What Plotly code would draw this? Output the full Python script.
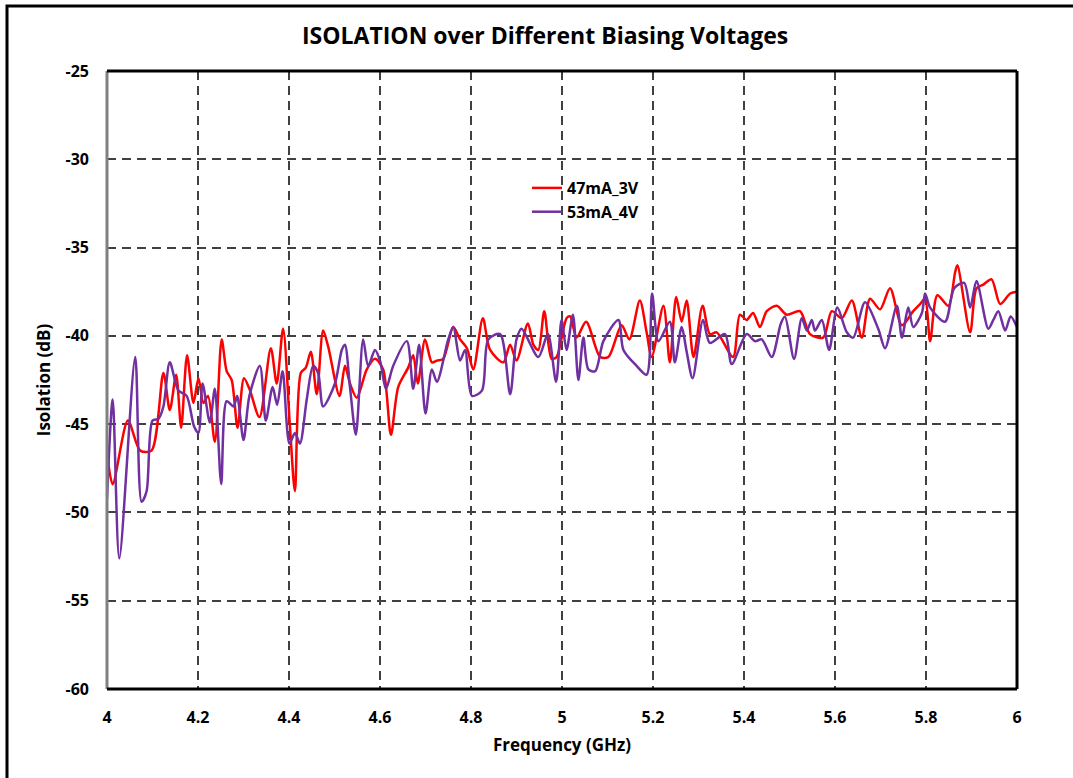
import plotly.graph_objects as go

# Isolation sweep, 47 mA / 3 V bias
freq_47mA = [4.000, 4.0125, 4.046, 4.073, 4.098, 4.124, 4.138, 4.152, 4.163, 4.176,
             4.190, 4.201, 4.212, 4.222, 4.237, 4.252, 4.263, 4.274, 4.287, 4.301,
             4.313, 4.335, 4.360, 4.373, 4.387, 4.402, 4.413, 4.426, 4.437, 4.448,
             4.461, 4.475, 4.486, 4.511, 4.523, 4.534, 4.549, 4.571, 4.589, 4.607,
             4.624, 4.640, 4.662, 4.673, 4.683, 4.699, 4.714, 4.725, 4.739, 4.761,
             4.776, 4.791, 4.805, 4.826, 4.842, 4.871, 4.886, 4.900, 4.925, 4.937,
             4.948, 4.961, 4.977, 4.988, 5.010, 5.018, 5.032, 5.053, 5.084, 5.102,
             5.131, 5.148, 5.171, 5.186, 5.197, 5.223, 5.237, 5.251, 5.263, 5.274,
             5.289, 5.309, 5.325, 5.340, 5.376, 5.391, 5.406, 5.420, 5.435, 5.450,
             5.472, 5.494, 5.523, 5.545, 5.574, 5.593, 5.615, 5.637, 5.659, 5.677,
             5.699, 5.721, 5.747, 5.772, 5.787, 5.798, 5.809, 5.825, 5.849, 5.864,
             5.869, 5.897, 5.911, 5.926, 5.944, 5.963, 5.985, 6.000]
iso_47mA = [-46.6, -48.4, -44.8, -46.5, -46.5, -42.1, -44.2, -42.2, -45.2, -41.1,
            -43.8, -42.4, -43.8, -43.4, -46.0, -40.2, -42.0, -42.5, -45.2, -42.4,
            -43.0, -44.6, -40.7, -42.7, -39.6, -45.1, -48.8, -42.1, -41.8, -40.9,
            -43.3, -39.7, -40.6, -43.4, -41.7, -42.7, -43.5, -41.9, -41.3, -41.9,
            -45.6, -42.9, -41.8, -41.1, -42.7, -40.2, -41.5, -41.4, -41.3, -39.5,
            -40.2, -40.7, -41.9, -39.0, -40.8, -41.5, -40.5, -41.4, -39.3, -40.5,
            -40.8, -38.6, -41.3, -41.2, -39.0, -38.9, -40.1, -39.2, -41.2, -41.2,
            -39.4, -40.2, -38.0, -39.8, -41.2, -38.3, -41.5, -37.8, -39.2, -38.0,
            -41.2, -38.3, -39.9, -39.8, -41.2, -38.8, -39.1, -38.7, -39.5, -38.6,
            -38.3, -38.8, -38.6, -39.9, -40.1, -38.6, -39.0, -38.0, -40.1, -37.9,
            -38.5, -37.3, -39.4, -38.6, -38.2, -37.9, -40.3, -37.7, -38.3, -36.4,
            -36.0, -39.8, -37.3, -37.1, -36.8, -38.2, -37.6, -37.5]

# Isolation sweep, 53 mA / 4 V bias
freq_53mA = [4.000, 4.0125, 4.027, 4.062, 4.076, 4.087, 4.100, 4.113, 4.124, 4.138,
             4.157, 4.175, 4.191, 4.201, 4.210, 4.226, 4.237, 4.251, 4.263, 4.278,
             4.286, 4.300, 4.313, 4.336, 4.349, 4.364, 4.374, 4.386, 4.401, 4.413,
             4.424, 4.439, 4.453, 4.464, 4.475, 4.501, 4.516, 4.523, 4.534, 4.547,
             4.563, 4.574, 4.589, 4.600, 4.613, 4.629, 4.659, 4.673, 4.686, 4.700,
             4.714, 4.725, 4.750, 4.761, 4.776, 4.787, 4.802, 4.824, 4.838, 4.864,
             4.886, 4.900, 4.911, 4.948, 4.969, 4.987, 4.999, 5.010, 5.024, 5.036,
             5.047, 5.058, 5.073, 5.091, 5.124, 5.135, 5.164, 5.186, 5.198, 5.212,
             5.237, 5.248, 5.263, 5.274, 5.287, 5.310, 5.325, 5.358, 5.373, 5.406,
             5.424, 5.439, 5.461, 5.481, 5.490, 5.510, 5.527, 5.538, 5.549, 5.556,
             5.571, 5.587, 5.605, 5.626, 5.640, 5.666, 5.695, 5.710, 5.736, 5.747,
             5.761, 5.772, 5.791, 5.798, 5.809, 5.842, 5.862, 5.884, 5.897, 5.911,
             5.937, 5.948, 5.959, 5.974, 5.986, 6.000]
iso_53mA = [-49.2, -43.6, -52.6, -41.2, -49.4, -48.8, -44.8, -44.7, -44.0, -41.5,
            -43.1, -43.4, -45.1, -45.5, -42.7, -44.9, -43.0, -48.4, -43.7, -44.0,
            -43.4, -45.9, -43.4, -41.7, -44.8, -42.9, -43.9, -42.0, -46.1, -45.5,
            -46.1, -43.6, -41.7, -42.1, -44.0, -42.7, -40.8, -40.5, -42.9, -45.6,
            -40.2, -41.7, -40.8, -41.4, -43.0, -41.7, -40.3, -43.0, -40.5, -44.4,
            -41.9, -42.6, -40.2, -39.5, -41.4, -40.8, -43.4, -43.1, -40.2, -39.9,
            -43.3, -40.2, -39.6, -41.2, -39.9, -42.6, -39.1, -40.8, -38.8, -42.5,
            -40.1, -41.9, -42.0, -40.3, -39.1, -40.8, -41.7, -42.2, -37.6, -40.3,
            -39.2, -41.5, -39.5, -40.9, -42.4, -39.1, -40.4, -39.9, -41.6, -39.9,
            -40.3, -40.2, -41.2, -39.3, -38.9, -41.3, -39.0, -39.7, -39.1, -39.7,
            -39.1, -40.8, -38.4, -39.8, -40.1, -38.1, -39.6, -40.7, -38.3, -40.1,
            -38.4, -39.5, -38.7, -37.6, -38.4, -39.2, -37.3, -37.0, -38.4, -36.9,
            -39.6, -39.1, -38.6, -39.7, -38.9, -39.5]

x_ticks = [4.0, 4.2, 4.4, 4.6, 4.8, 5.0, 5.2, 5.4, 5.6, 5.8, 6.0]
x_tick_text = ["4", "4.2", "4.4", "4.6", "4.8", "5", "5.2", "5.4", "5.6", "5.8", "6"]
y_ticks = [-25, -30, -35, -40, -45, -50, -55, -60]
y_tick_text = ["-25", "-30", "-35", "-40", "-45", "-50", "-55", "-60"]

FONT = "Open Sans"
W, H = 1073, 778
ML, MR, MT, MB = 107, 56, 71, 89
PW, PH = W - ML - MR, H - MT - MB


def px_to_paper_x(px):
    return (px - ML) / PW


def px_to_paper_y(py):
    return (H - MB - py) / PH


fig = go.Figure()
fig.add_trace(go.Scatter(
    x=freq_47mA, y=iso_47mA, mode="lines", name="47mA_3V",
    line=dict(color="#FF0000", width=2.5, shape="spline", smoothing=0.8),
))
fig.add_trace(go.Scatter(
    x=freq_53mA, y=iso_53mA, mode="lines", name="53mA_4V",
    line=dict(color="#7030A0", width=2.5, shape="spline", smoothing=0.8),
))

grid_style = dict(showgrid=True, gridcolor="#404040", gridwidth=1.5, griddash="9px,6px")
tick_font = dict(family=FONT, size=16, color="#000000", weight="bold")
axis_title_font = dict(family=FONT, size=17, color="#000000", weight="bold")

fig.update_xaxes(
    range=[4, 6], tickvals=x_ticks, ticktext=x_tick_text,
    ticks="", zeroline=False, showline=False,
    tickfont=tick_font,
    ticklabelstandoff=17,
    title=dict(text="Frequency (GHz)", font=axis_title_font, standoff=12),
    **grid_style,
)
fig.update_yaxes(
    range=[-60, -25], tickvals=y_ticks, ticktext=y_tick_text,
    ticks="", zeroline=False, showline=False,
    tickfont=tick_font,
    ticklabelstandoff=17,
    title=dict(text="Isolation (dB)", font=axis_title_font, standoff=10),
    **grid_style,
)

shapes = [
    # plot-area frame: grey left axis, black top/right/bottom
    dict(type="line", xref="paper", yref="paper", x0=0, x1=0, y0=0, y1=1,
         line=dict(color="#808080", width=3)),
    dict(type="line", xref="paper", yref="paper", x0=0, x1=1, y0=1, y1=1,
         line=dict(color="#000000", width=3)),
    dict(type="line", xref="paper", yref="paper", x0=1, x1=1, y0=0, y1=1,
         line=dict(color="#000000", width=3)),
    dict(type="line", xref="paper", yref="paper", x0=0, x1=1, y0=0, y1=0,
         line=dict(color="#000000", width=3)),
    # outer chart frame
    dict(type="rect", xref="paper", yref="paper",
         x0=px_to_paper_x(7), x1=px_to_paper_x(1085),
         y0=px_to_paper_y(800), y1=px_to_paper_y(6),
         line=dict(color="#000000", width=3), fillcolor="rgba(0,0,0,0)"),
]

fig.update_layout(
    width=W, height=H,
    margin=dict(l=ML, r=MR, t=MT, b=MB),
    paper_bgcolor="#FFFFFF", plot_bgcolor="#FFFFFF",
    font=dict(family=FONT, color="#000000"),
    title=dict(text="ISOLATION over Different Biasing Voltages",
               x=0.508, xanchor="center", y=1 - 36 / H, yanchor="middle",
               font=dict(family=FONT, size=23, color="#000000", weight="bold")),
    legend=dict(x=px_to_paper_x(527), y=px_to_paper_y(171), xanchor="left", yanchor="top",
                bgcolor="rgba(0,0,0,0)", borderwidth=0, tracegroupgap=0,
                font=dict(family=FONT, size=16, color="#000000", weight="bold"),
                itemwidth=30),
    shapes=shapes,
    showlegend=True,
)

fig.write_html("out.html")
